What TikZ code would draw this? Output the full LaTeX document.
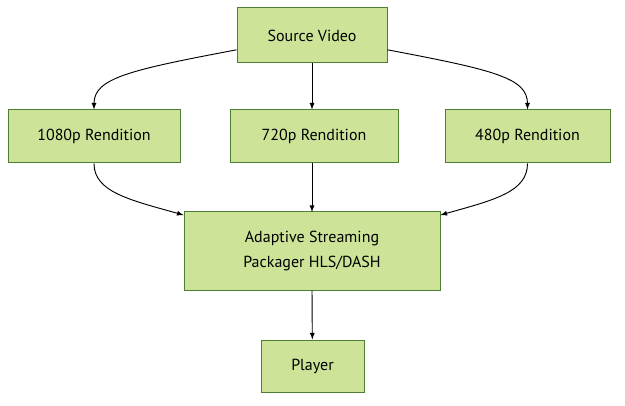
\documentclass[tikz,border=0pt]{standalone}
\usepackage{fontspec}
\setmainfont{PT Sans}
\usepgflibrary{arrows}
\definecolor{boxfill}{HTML}{CDE498}
\definecolor{boxline}{HTML}{4F7F33}

\begin{document}
\begin{tikzpicture}[x=0.75pt,y=-0.75pt,>=latex,
stufe/.style={rectangle,draw=boxline,fill=boxfill,line width=0.75pt,font=\fontsize{12}{14}\selectfont,inner sep=0pt}]
\useasboundingbox (0,0) rectangle (625,406);
\node[stufe,minimum width=150*0.75pt,minimum height=55*0.75pt](src) at (312,35.5){Source Video};
\node[stufe,minimum width=172*0.75pt,minimum height=53*0.75pt](r1080) at (94,136.5){1080p Rendition};
\node[stufe,minimum width=168*0.75pt,minimum height=53*0.75pt](r720) at (314,136.5){720p Rendition};
\node[stufe,minimum width=165*0.75pt,minimum height=53*0.75pt](r480) at (527.5,136.5){480p Rendition};
\node[stufe,minimum width=256*0.75pt,minimum height=78*0.75pt,align=center](pack) at (312,251){Adaptive Streaming\\[5pt]Packager HLS/DASH};
\node[stufe,minimum width=103*0.75pt,minimum height=52*0.75pt](player) at (312.5,366){Player};
\coordinate(srcbot) at (312,63);
\coordinate(packtop) at (312,212);
\begin{scope}[->, line width=0.7pt]
 \draw (src) .. controls (130,70) and (94,78) .. (r1080);
 \draw (srcbot)--(srcbot|-r720.north);
 \draw (src) .. controls (494,70) and (527.5,78) .. (r480);
 \draw (r1080) .. controls (94,192) and (130,200) .. (pack);
 \draw (packtop|-r720.south)--(packtop);
 \draw (r480) .. controls (527.5,192) and (494,200) .. (pack);
 \draw (pack.south)--(player);
\end{scope}
\end{tikzpicture}
\end{document}
